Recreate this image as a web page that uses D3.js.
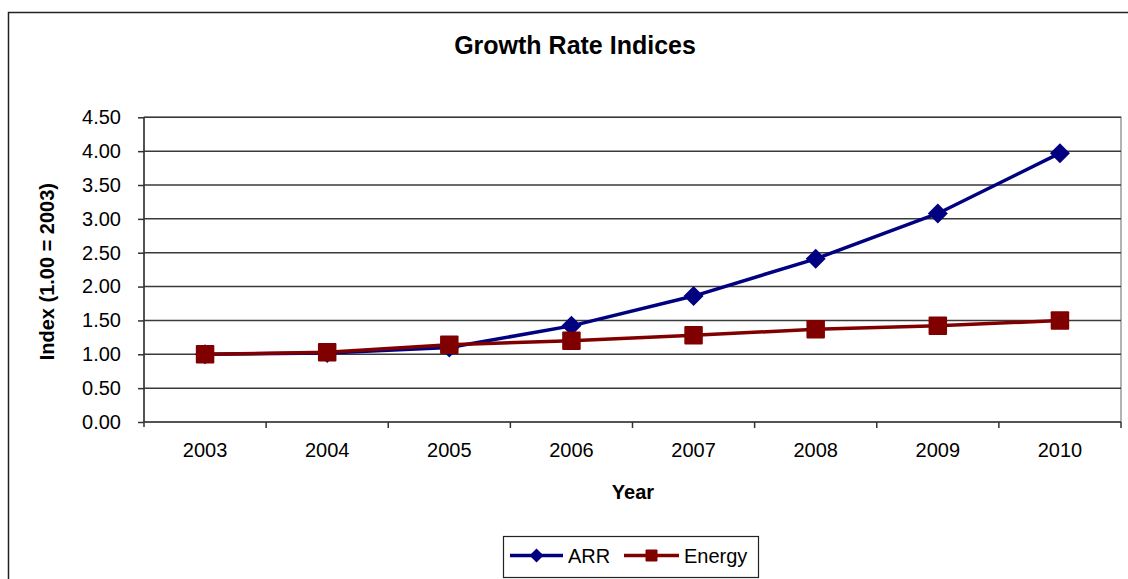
<!DOCTYPE html>
<html>
<head>
<meta charset="utf-8">
<script src="https://cdn.jsdelivr.net/npm/d3@7"></script>
<style>
  html, body { margin: 0; padding: 0; background: #fff; }
  svg { display: block; font-family: "Liberation Sans", Arial, sans-serif; }
</style>
</head>
<body>
<svg id="chart" width="1128" height="579"></svg>
<script>
// Index values, base year 2003 = 1.00
const years = ["2003", "2004", "2005", "2006", "2007", "2008", "2009", "2010"];
const arrValues = [1.00, 1.02, 1.10, 1.42, 1.86, 2.41, 3.08, 3.97];
const energyValues = [1.00, 1.03, 1.14, 1.20, 1.28, 1.37, 1.42, 1.50];
const yTicks = [0, 0.5, 1, 1.5, 2, 2.5, 3, 3.5, 4, 4.5];

const series = [
  { name: "ARR", values: arrValues, color: "#000080", marker: "diamond" },
  { name: "Energy", values: energyValues, color: "#800000", marker: "square" }
];

const svg = d3.select("#chart");

// Outer chart frame (runs off the right and bottom edges)
svg.append("rect")
  .attr("x", 8.5).attr("y", 12.5)
  .attr("width", 1300).attr("height", 700)
  .attr("fill", "#fff").attr("stroke", "#222").attr("stroke-width", 1.5);

const plot = { left: 144, right: 1121, top: 117.3, bottom: 422 };

const x = d3.scaleBand().domain(years).range([plot.left, plot.right]);
const y = d3.scaleLinear().domain([0, 4.5]).range([plot.bottom, plot.top]);

// Plot area border
svg.append("rect")
  .attr("x", plot.left).attr("y", plot.top)
  .attr("width", plot.right - plot.left).attr("height", plot.bottom - plot.top)
  .attr("fill", "none").attr("stroke", "#9a9a9a").attr("stroke-width", 1.5);

// Horizontal gridlines
svg.append("g")
  .selectAll("line")
  .data(yTicks.filter(d => d > 0))
  .join("line")
  .attr("x1", plot.left).attr("x2", plot.right)
  .attr("y1", d => y(d)).attr("y2", d => y(d))
  .attr("stroke", "#3a3a3a").attr("stroke-width", 1.5);

// Y axis
const yAxis = svg.append("g")
  .attr("transform", `translate(${plot.left},0)`)
  .call(d3.axisLeft(y).tickValues(yTicks).tickFormat(d3.format(".2f")).tickSize(6).tickPadding(17));
yAxis.select(".domain").attr("stroke", "#333").attr("stroke-width", 1.5)
  .attr("d", `M0,${plot.top}V${plot.bottom + 5}`);
yAxis.selectAll(".tick line").attr("stroke", "#333").attr("stroke-width", 1.5);
yAxis.selectAll(".tick text").attr("font-size", 20).attr("fill", "#000")
  .attr("font-family", "Liberation Sans, Arial, sans-serif");

// X axis: ticks at category boundaries, labels at centers
const xAxis = svg.append("g")
  .attr("transform", `translate(0,${plot.bottom})`)
  .call(d3.axisBottom(x).tickSize(0).tickPadding(21));
xAxis.select(".domain").attr("stroke", "#333").attr("stroke-width", 1.5)
  .attr("d", `M${plot.left},0H${plot.right}`);
xAxis.selectAll(".tick text").attr("font-size", 20).attr("fill", "#000")
  .attr("font-family", "Liberation Sans, Arial, sans-serif");
const boundaries = years.map(d => x(d)).concat([x(years[years.length - 1]) + x.bandwidth()]);
xAxis.selectAll(".bound")
  .data(boundaries.slice(1))
  .join("line")
  .attr("class", "bound")
  .attr("x1", d => d).attr("x2", d => d)
  .attr("y1", 0).attr("y2", 6)
  .attr("stroke", "#333").attr("stroke-width", 1.5);

// Marker shapes
function drawMarker(sel, kind, color, size) {
  if (kind === "diamond") {
    const h = size / 2;
    sel.append("path")
      .attr("d", `M0,${-h}L${h},0L0,${h}L${-h},0Z`)
      .attr("fill", color);
  } else {
    sel.append("rect")
      .attr("x", -size / 2).attr("y", -size / 2)
      .attr("width", size).attr("height", size)
      .attr("rx", 1)
      .attr("fill", color);
  }
}

const cx = d => x(d) + x.bandwidth() / 2;

// Lines and markers
series.forEach(s => {
  const pts = years.map((yr, i) => [cx(yr), y(s.values[i])]);
  svg.append("path")
    .attr("d", d3.line()(pts))
    .attr("fill", "none").attr("stroke", s.color).attr("stroke-width", 3.5)
    .attr("stroke-linejoin", "round");
  const g = svg.append("g");
  pts.forEach(p => {
    const m = g.append("g").attr("transform", `translate(${p[0]},${p[1]})`);
    drawMarker(m, s.marker, s.color, s.marker === "diamond" ? 20 : 18.5);
  });
});

// Title
svg.append("text")
  .attr("x", 575).attr("y", 54)
  .attr("text-anchor", "middle")
  .attr("font-size", 25).attr("font-weight", "bold")
  .text("Growth Rate Indices");

// Axis titles
svg.append("text")
  .attr("transform", `translate(54,${(plot.top + plot.bottom) / 2 + 2}) rotate(-90)`)
  .attr("text-anchor", "middle")
  .attr("font-size", 20).attr("font-weight", "bold")
  .text("Index (1.00 = 2003)");

svg.append("text")
  .attr("x", 633).attr("y", 499)
  .attr("text-anchor", "middle")
  .attr("font-size", 20).attr("font-weight", "bold")
  .text("Year");

// Legend
const legend = svg.append("g");
legend.append("rect")
  .attr("x", 503.5).attr("y", 536.5)
  .attr("width", 255).attr("height", 41)
  .attr("fill", "#fff").attr("stroke", "#222").attr("stroke-width", 1.2);
const legendItems = [
  { s: series[0], x0: 510, x1: 563, tx: 568 },
  { s: series[1], x0: 624, x1: 679, tx: 684 }
];
legendItems.forEach(it => {
  const ly = 555.5;
  legend.append("line")
    .attr("x1", it.x0).attr("x2", it.x1).attr("y1", ly).attr("y2", ly)
    .attr("stroke", it.s.color).attr("stroke-width", 3.5);
  const m = legend.append("g").attr("transform", `translate(${(it.x0 + it.x1) / 2},${ly})`);
  drawMarker(m, it.s.marker, it.s.color, it.s.marker === "diamond" ? 14 : 12);
  legend.append("text")
    .attr("x", it.tx).attr("y", ly + 7)
    .attr("font-size", 20)
    .text(it.s.name);
});
</script>
</body>
</html>
